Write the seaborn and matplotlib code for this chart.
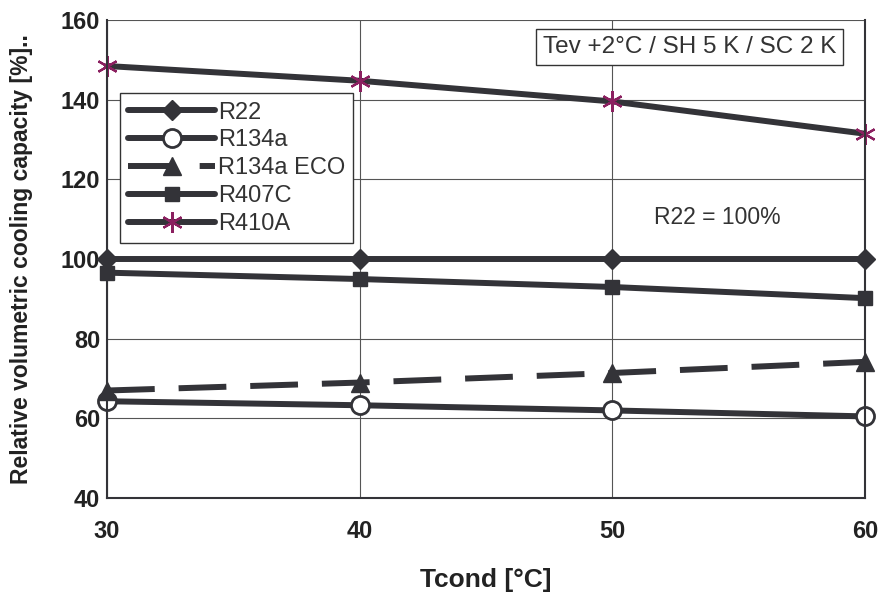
import matplotlib
matplotlib.use("Agg")
import matplotlib.pyplot as plt
import seaborn as sns
import pandas as pd

tcond = [30, 40, 50, 60]
r22 = [100, 100, 100, 100]
r134a = [64.3, 63.3, 62.0, 60.5]
r134a_eco = [67.0, 69.0, 71.4, 74.2]
r407c = [96.6, 95.0, 93.0, 90.2]
r410a = [148.5, 144.8, 139.6, 131.5]
series_names = ["R22", "R134a", "R134a ECO", "R407C", "R410A"]
series_vals = [r22, r134a, r134a_eco, r407c, r410a]
y_ticks = [40, 60, 80, 100, 120, 140, 160]
x_ticks = [30, 40, 50, 60]

sns.set_theme(style="white")
plt.rcParams['font.family'] = ['Liberation Sans', 'DejaVu Sans']

fig = plt.figure(figsize=(8.79, 5.95), dpi=100)
ax = fig.add_axes([0.1217, 0.163, 0.8623, 0.803])

dark = "#333338"
purple = "#8B2060"
styles = {
    "R22": dict(marker="D", ms=10, mfc=dark, mec=dark, ls="-"),
    "R134a": dict(marker="o", ms=13, mfc="white", mec=dark, mew=2, ls="-"),
    "R134a ECO": dict(marker="^", ms=13, mfc=dark, mec=dark, ls=(0, (8, 4))),
    "R407C": dict(marker="s", ms=10.5, mfc=dark, mec=dark, ls="-"),
    "R410A": dict(marker=(6, 2, 0), ms=15, mfc=purple, mec=purple, mew=1.6, ls="-"),
}

for name, vals in zip(series_names, series_vals):
    df = pd.DataFrame({"x": tcond, "y": vals})
    st = styles[name]
    sns.lineplot(data=df, x="x", y="y", ax=ax, color=dark, lw=4.3,
                 linestyle=st["ls"], marker=st["marker"], markersize=st["ms"],
                 markerfacecolor=st["mfc"], markeredgecolor=st["mec"],
                 markeredgewidth=st.get("mew", 1), label=name, clip_on=False,
                 solid_capstyle="round", dash_capstyle="butt")

ax.set_xlim(30, 60)
ax.set_ylim(40, 160)
ax.set_xticks(x_ticks)
ax.set_yticks(y_ticks)
ax.grid(True, color="#555555", lw=0.8)
ax.set_axisbelow(True)
for s in ax.spines.values():
    s.set_color(dark)
    s.set_linewidth(1.5)
ax.spines["top"].set_visible(False)
ax.tick_params(axis="both", labelsize=17, colors="#222222", length=0)
for lab in ax.get_xticklabels() + ax.get_yticklabels():
    lab.set_fontweight("bold")
ax.tick_params(axis="x", pad=16)
ax.tick_params(axis="y", pad=5)

ax.set_xlabel("Tcond [°C]", fontsize=19, fontweight="bold", color="#222222", labelpad=18)
ax.set_ylabel("Relative volumetric cooling capacity [%]..", fontsize=16.5,
              fontweight="bold", color="#222222", labelpad=20)

leg = ax.legend(loc="upper left", bbox_to_anchor=(0.017, 0.847), fontsize=17,
                handlelength=3.7, handletextpad=0.1, labelspacing=0.25,
                frameon=True, fancybox=False, borderpad=0.35, borderaxespad=0)
leg.get_frame().set_edgecolor("#333333")
leg.get_frame().set_linewidth(1.0)
leg.get_frame().set_alpha(1)
for t in leg.get_texts():
    t.set_color("#333333")

ax.text(0.722, 0.588, "R22 = 100%", transform=ax.transAxes, fontsize=16.5, color="#333333",
        va="center", ha="left")
ax.text(0.962, 0.944, "Tev +2°C / SH 5 K / SC 2 K", transform=ax.transAxes, fontsize=17.5,
        color="#333333", va="center", ha="right",
        bbox=dict(boxstyle="square,pad=0.28", fc="white", ec="#333333", lw=1.0))

fig.savefig("out.png", dpi=100)
